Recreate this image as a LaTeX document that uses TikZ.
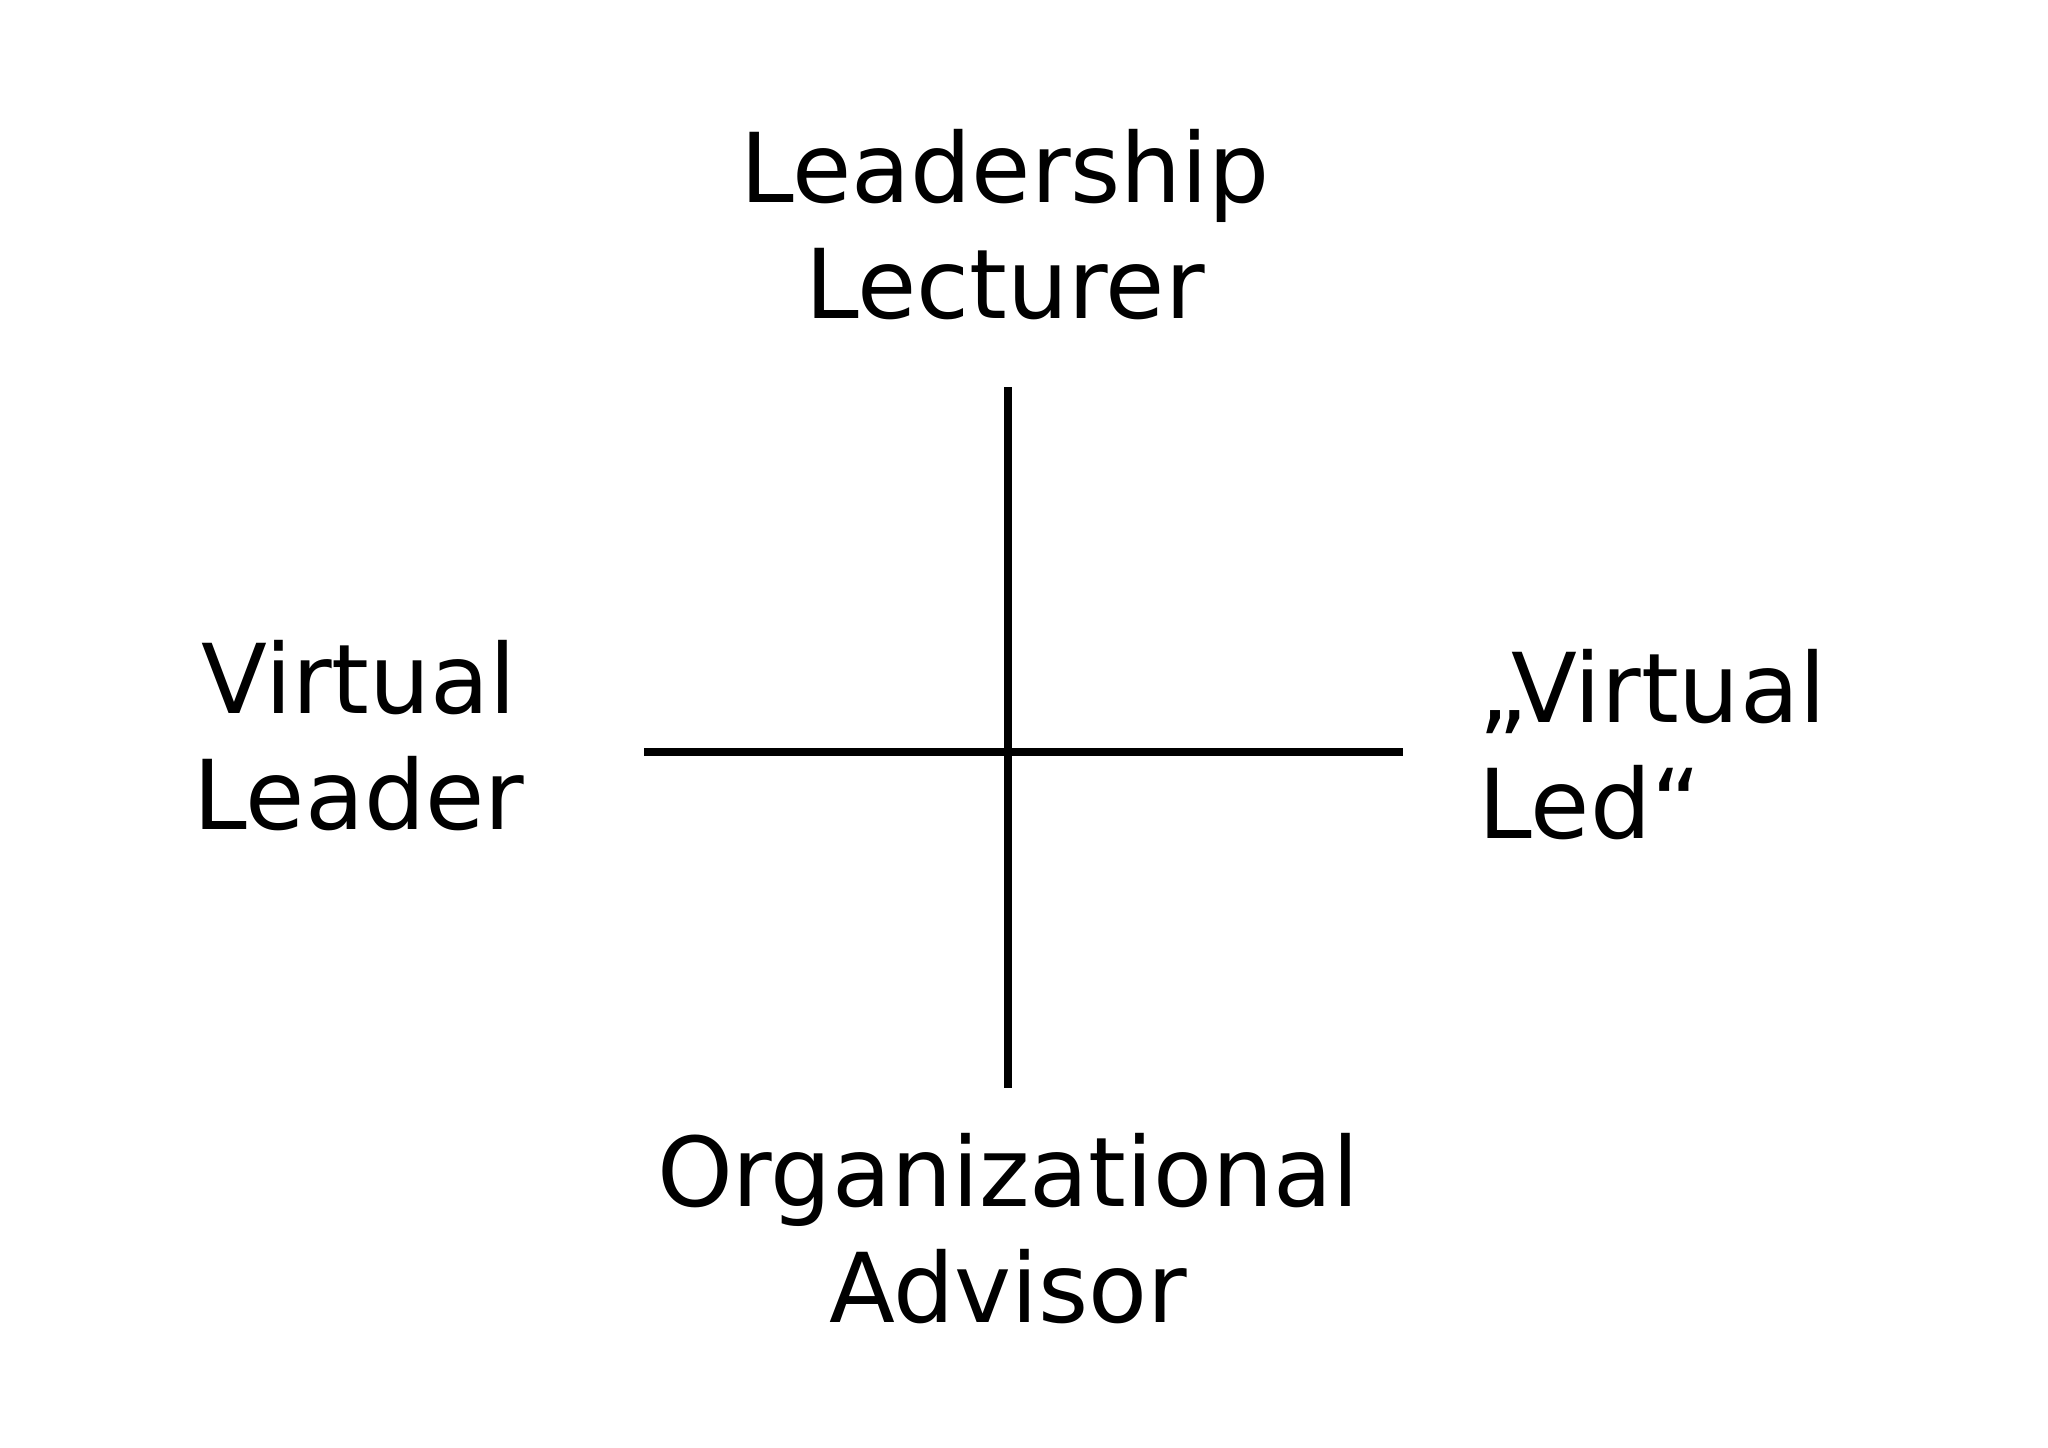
\documentclass[tikz,border=0pt]{standalone}
\usepackage{fontspec}
\setmainfont{DejaVu Sans}
\begin{document}
\begin{tikzpicture}[x=0.01cm,y=-0.01cm,
    rol/.style={font=\fontsize{27.4}{33}\selectfont,inner sep=0pt},
    eje/.style={line width=2.3pt}]
      \useasboundingbox (0,0) rectangle (2048,1447);

      % Roles
      \node[rol,align=center] (lecturer) at (1005,225) {Leadership\\Lecturer};
      \node[rol,align=center] (leader) at (359,736) {Virtual\\Leader};
      \node[rol,align=left,anchor=west] (led) at (1478,745) {„Virtual\\Led“};
      \node[rol,align=center] (advisor) at (1008,1229) {Organizational\\Advisor};

      % Ejes
      \coordinate (arriba) at (1008,387);
      \coordinate (abajo) at (1008,1088);
      \coordinate (izq) at (644,752);
      \coordinate (der) at (1403,752);
      \draw[eje] (arriba) -- (abajo);
      \draw[eje] (izq) -- (der);
    \end{tikzpicture}
\end{document}
